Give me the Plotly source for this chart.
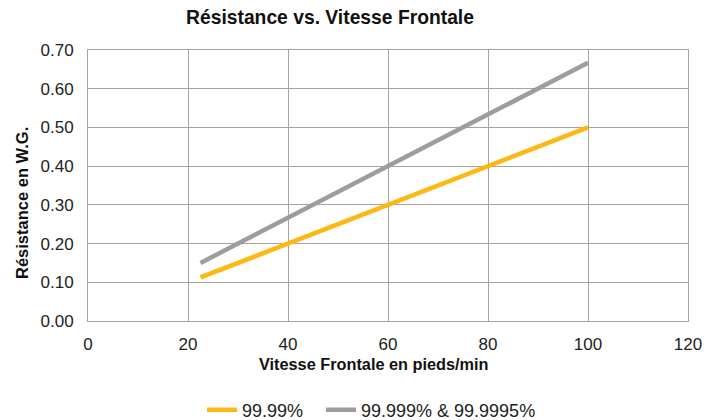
import plotly.graph_objects as go

x_vals = [22.5, 100]
y_9999 = [0.1125, 0.50]
y_99999 = [0.15, 0.667]
series_names = ["99.99%", "99.999% & 99.9995%"]
x_ticks = [0, 20, 40, 60, 80, 100, 120]
y_ticks = [0.0, 0.1, 0.2, 0.3, 0.4, 0.5, 0.6, 0.7]

FONT = "Liberation Sans, Arial, Helvetica, sans-serif"
GRID = "#a3a3a3"

# page body has an 8px default margin; figure size compensates
OFF = 8
W, H = 718 - OFF, 420 - OFF
L, R, T, B = 80, 30, 42, 99
PW, PH = W - L - R, H - T - B


def px_to_paper_x(sx):
    return (sx - OFF - L) / PW


def px_to_paper_y(sy):
    return (T + PH - (sy - OFF)) / PH


fig = go.Figure()
fig.add_trace(go.Scatter(x=x_vals, y=y_9999, mode="lines", name=series_names[0],
                         line=dict(color="#FDB813", width=4.5), legend="legend"))
fig.add_trace(go.Scatter(x=x_vals, y=y_99999, mode="lines", name=series_names[1],
                         line=dict(color="#9d9d9f", width=4.5), legend="legend2"))

leg_common = dict(orientation="h", xanchor="left", yanchor="middle",
                  font=dict(size=18, color="#222222"), itemwidth=30,
                  bgcolor="rgba(0,0,0,0)")

fig.update_layout(
    width=W, height=H,
    margin=dict(l=L, r=R, t=T, b=B, autoexpand=False),
    paper_bgcolor="white", plot_bgcolor="white",
    font=dict(family=FONT, color="#222222", size=16),
    title=dict(text="<b>Résistance vs. Vitesse Frontale</b>", x=322 / W, xanchor="center",
               y=1 - 9.5 / H, yref="container", yanchor="middle",
               font=dict(size=19.3, color="#111111")),
    showlegend=True,
    legend=dict(x=px_to_paper_x(202), y=px_to_paper_y(410), **leg_common),
    legend2=dict(x=px_to_paper_x(321), y=px_to_paper_y(410), **leg_common),
    xaxis=dict(range=[0, 120], tickvals=x_ticks, ticktext=[str(v) for v in x_ticks],
               showgrid=True, gridcolor=GRID, gridwidth=1, zeroline=False,
               showline=True, linecolor=GRID, linewidth=1, mirror=True, automargin=False,
               ticks="", ticklabelstandoff=8, tickfont=dict(size=17)),
    yaxis=dict(range=[0, 0.7], tickvals=y_ticks, ticktext=[f"{v:.2f}" for v in y_ticks],
               showgrid=True, gridcolor=GRID, gridwidth=1, zeroline=False,
               showline=True, linecolor=GRID, linewidth=1, mirror=True, automargin=False,
               ticks="", ticklabelstandoff=10, tickfont=dict(size=17)),
    annotations=[
        dict(text="<b>Résistance en W.G.</b>", textangle=-90,
             xref="paper", yref="paper", x=px_to_paper_x(22), xanchor="center",
             y=px_to_paper_y(203), yanchor="middle", showarrow=False,
             font=dict(size=16.5, color="#111111", family=FONT)),
        dict(text="<b>Vitesse Frontale en pieds/min</b>",
             xref="paper", yref="paper", x=px_to_paper_x(373.5), xanchor="center",
             y=px_to_paper_y(364), yanchor="middle", showarrow=False,
             font=dict(size=16.3, color="#111111", family=FONT)),
    ],
)

fig.write_html("out.html")
